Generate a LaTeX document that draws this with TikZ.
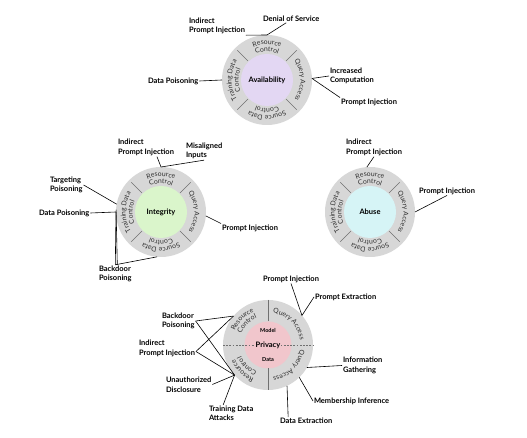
\documentclass[tikz,border=0pt]{standalone}
\usepackage{fontspec}
\setmainfont{Lato}
\usetikzlibrary{calc,decorations.text}
\definecolor{ringgray}{HTML}{D7D7D7}
\definecolor{divgray}{HTML}{707070}
\definecolor{ringtxt}{HTML}{2E2E2E}
\definecolor{lavender}{HTML}{E3D7F3}
\definecolor{mint}{HTML}{DAF5CB}
\definecolor{aqua}{HTML}{D6F4F6}
\definecolor{rosy}{HTML}{F1C6CC}
\tikzset{
  lbl/.style={font=\bfseries\fontsize{7.5}{9.5}\selectfont, align=left, anchor=west, inner sep=0pt, outer sep=1pt, text=black},
  conn/.style={draw=black, line width=0.6pt},
  ring/.style={circle, fill=ringgray, minimum size=90pt, inner sep=0pt, outer sep=0pt},
  core/.style={circle, minimum size=52pt, inner sep=0pt, outer sep=0pt, font=\bfseries\fontsize{7.5}{9}\selectfont},
  divider/.style={draw=divgray, line width=0.6pt},
  small/.style={font=\bfseries\fontsize{5.5}{6}\selectfont, inner sep=0pt},
}
\newcommand\ringfont{\fontsize{6.8}{7.5}\selectfont}
% #1 centre node, #2 mid angle, #3 baseline radius, #4 half span, #5 text
\newcommand\myArcText[5]{%
  \path[decorate, decoration={text along path, text={|\ringfont|#5}, text color=ringtxt, text align=center}]
    ($(#1)+(#2+#4:#3pt)$) arc[start angle=#2+#4, end angle=#2-#4, radius=#3pt];
}
\newcommand\myFourRing[1]{%
  \foreach \a in {45,135,225,315} {\draw[divider] ($(#1)+(\a:27pt)$) -- ($(#1)+(\a:42pt)$);}
  \myArcText{#1}{90}{35.5}{55}{Resource}
  \myArcText{#1}{90}{28.5}{62}{Control}
  \myArcText{#1}{0}{33.5}{55}{Query Access}
  \myArcText{#1}{-90}{35.5}{55}{Source Data}
  \myArcText{#1}{-90}{28.5}{62}{Control}
  \myArcText{#1}{180}{35.5}{55}{Training Data}
  \myArcText{#1}{180}{28.5}{62}{Control}
}
\begin{document}
\begin{tikzpicture}[x=1pt,y=1pt]
\fill[white] (0,0) rectangle (527,438);
\useasboundingbox (0,0) rectangle (527,438);

% ---------- Availability ----------
\node[ring] (Av) at (267,358) {};
\node[core, fill=lavender] (Avi) at (267,358) {Availability};
\myFourRing{Av}
\node[lbl] (A1) at (188,412) {Indirect\\Prompt Injection};
\node[lbl] (A2) at (262,419) {Denial of Service};
\node[lbl] (A3) at (147,357) {Data Poisoning};
\node[lbl] (A4) at (329,362) {Increased\\Computation};
\node[lbl] (A5) at (340,336) {Prompt Injection};
\draw[conn] (A1.south east) -- (Av.north);
\draw[conn] ([xshift=-5pt]A2.south) -- (Av.north);
\draw[conn] (A3.east) -- (Av.west);
\draw[conn] (Av.2) -- (A4.west);
\draw[conn] (Av.2) -- (A5.north west);

% ---------- Integrity ----------
\node[ring] (In) at (161,226) {};
\node[core, fill=mint] (Ini) at (161,226) {Integrity};
\myFourRing{In}
\node[lbl] (I1) at (117,290.5) {Indirect\\Prompt Injection};
\node[lbl] (I2) at (185,287) {Misaligned\\Inputs};
\node[lbl] (I3) at (49,253) {Targeting\\Poisoning};
\node[lbl] (I4) at (38,225) {Data Poisoning};
\node[lbl] (I5) at (98,164) {Backdoor\\Poisoning};
\node[lbl] (I6) at (221,210) {Prompt Injection};
\draw[conn] ([xshift=11pt]I1.south) -- (In.north);
\draw[conn] (I2.south) -- (In.north);
\draw[conn] (I3.east) -- (In.170);
\draw[conn] (I4.east) -- (In.west);
\draw[conn] (I5.north) -- (In.west);
\draw[conn] ([xshift=2pt]I5.north) -- (In.177);
\draw[conn] (I5.north) -- (In.265);
\draw[conn] (In.-5) -- (I6.north west);

% ---------- Abuse ----------
\node[ring] (Ab) at (370,226) {};
\node[core, fill=aqua] (Abi) at (370,226) {Abuse};
\myFourRing{Ab}
\node[lbl] (B1) at (345,290.5) {Indirect\\Prompt Injection};
\node[lbl] (B2) at (418,247) {Prompt Injection};
\draw[conn] (B1.south) -- (Ab.94);
\draw[conn] (B2.south) -- (Ab.east);

% ---------- Privacy ----------
\node[ring] (Pr) at (268,93) {};
\node[circle, fill=rosy, minimum size=47pt, inner sep=0pt, outer sep=0pt] (Pri) at (268,93) {};
\draw[divgray, line width=0.6pt, dash pattern=on 1.8pt off 1.4pt] (Pr.west) -- (Pr.east);
\draw[divgray, line width=1pt] (Pr.north) -- (Pri.north);
\draw[divgray, line width=1pt] (Pri.south) -- (Pr.south);
\node[small] (Pm) at (268,108) {Model};
\node[small] (Pd) at (268,78) {Data};
\node[font=\bfseries\fontsize{7.5}{9}\selectfont, fill=rosy, inner sep=1pt] (Pt) at (268,93) {Privacy};
\myArcText{Pr}{135}{36}{44}{Resource}
\myArcText{Pr}{135}{29}{44}{Control}
\myArcText{Pr}{45}{32.5}{44}{Query Access}
\myArcText{Pr}{-45}{32.5}{44}{Query Access}
\myArcText{Pr}{-135}{36}{44}{Resource}
\myArcText{Pr}{-135}{29}{44}{Control}
\node[lbl] (P1) at (262,159) {Prompt Injection};
\node[lbl] (P2) at (314,141) {Prompt Extraction};
\node[lbl] (P3) at (161,117) {Backdoor\\Poisoning};
\node[lbl] (P4) at (138,89.5) {Indirect\\Prompt Injection};
\node[lbl] (P5) at (165,53.5) {Unauthorized\\Disclosure};
\node[lbl] (P6) at (208,24.5) {Training Data\\Attacks};
\node[lbl] (P7) at (342,72.5) {Information\\Gathering};
\node[lbl] (P8) at (313,37) {Membership Inference};
\node[lbl] (P9) at (279,17) {Data Extraction};
\draw[conn] (P1.south) -- (Pr.41);
\draw[conn] (P2.west) -- (Pr.41);
\draw[conn] (P3.east) -- (Pr.140);
\draw[conn] (P3.east) -- (Pr.222);
\draw[conn] ([yshift=-3pt]P4.east) -- (Pr.140);
\draw[conn] ([yshift=-3pt]P4.east) -- (Pr.222);
\draw[conn] (P5.east) -- (Pr.222);
\draw[conn] ([xshift=-8pt]P6.north) -- (Pr.222);
\draw[conn] (Pr.-30) -- (P7.west);
\draw[conn] (Pr.-46) -- (P8.west);
\draw[conn] ([xshift=-18pt]P9.north) -- (Pr.-65);
\end{tikzpicture}
\end{document}
